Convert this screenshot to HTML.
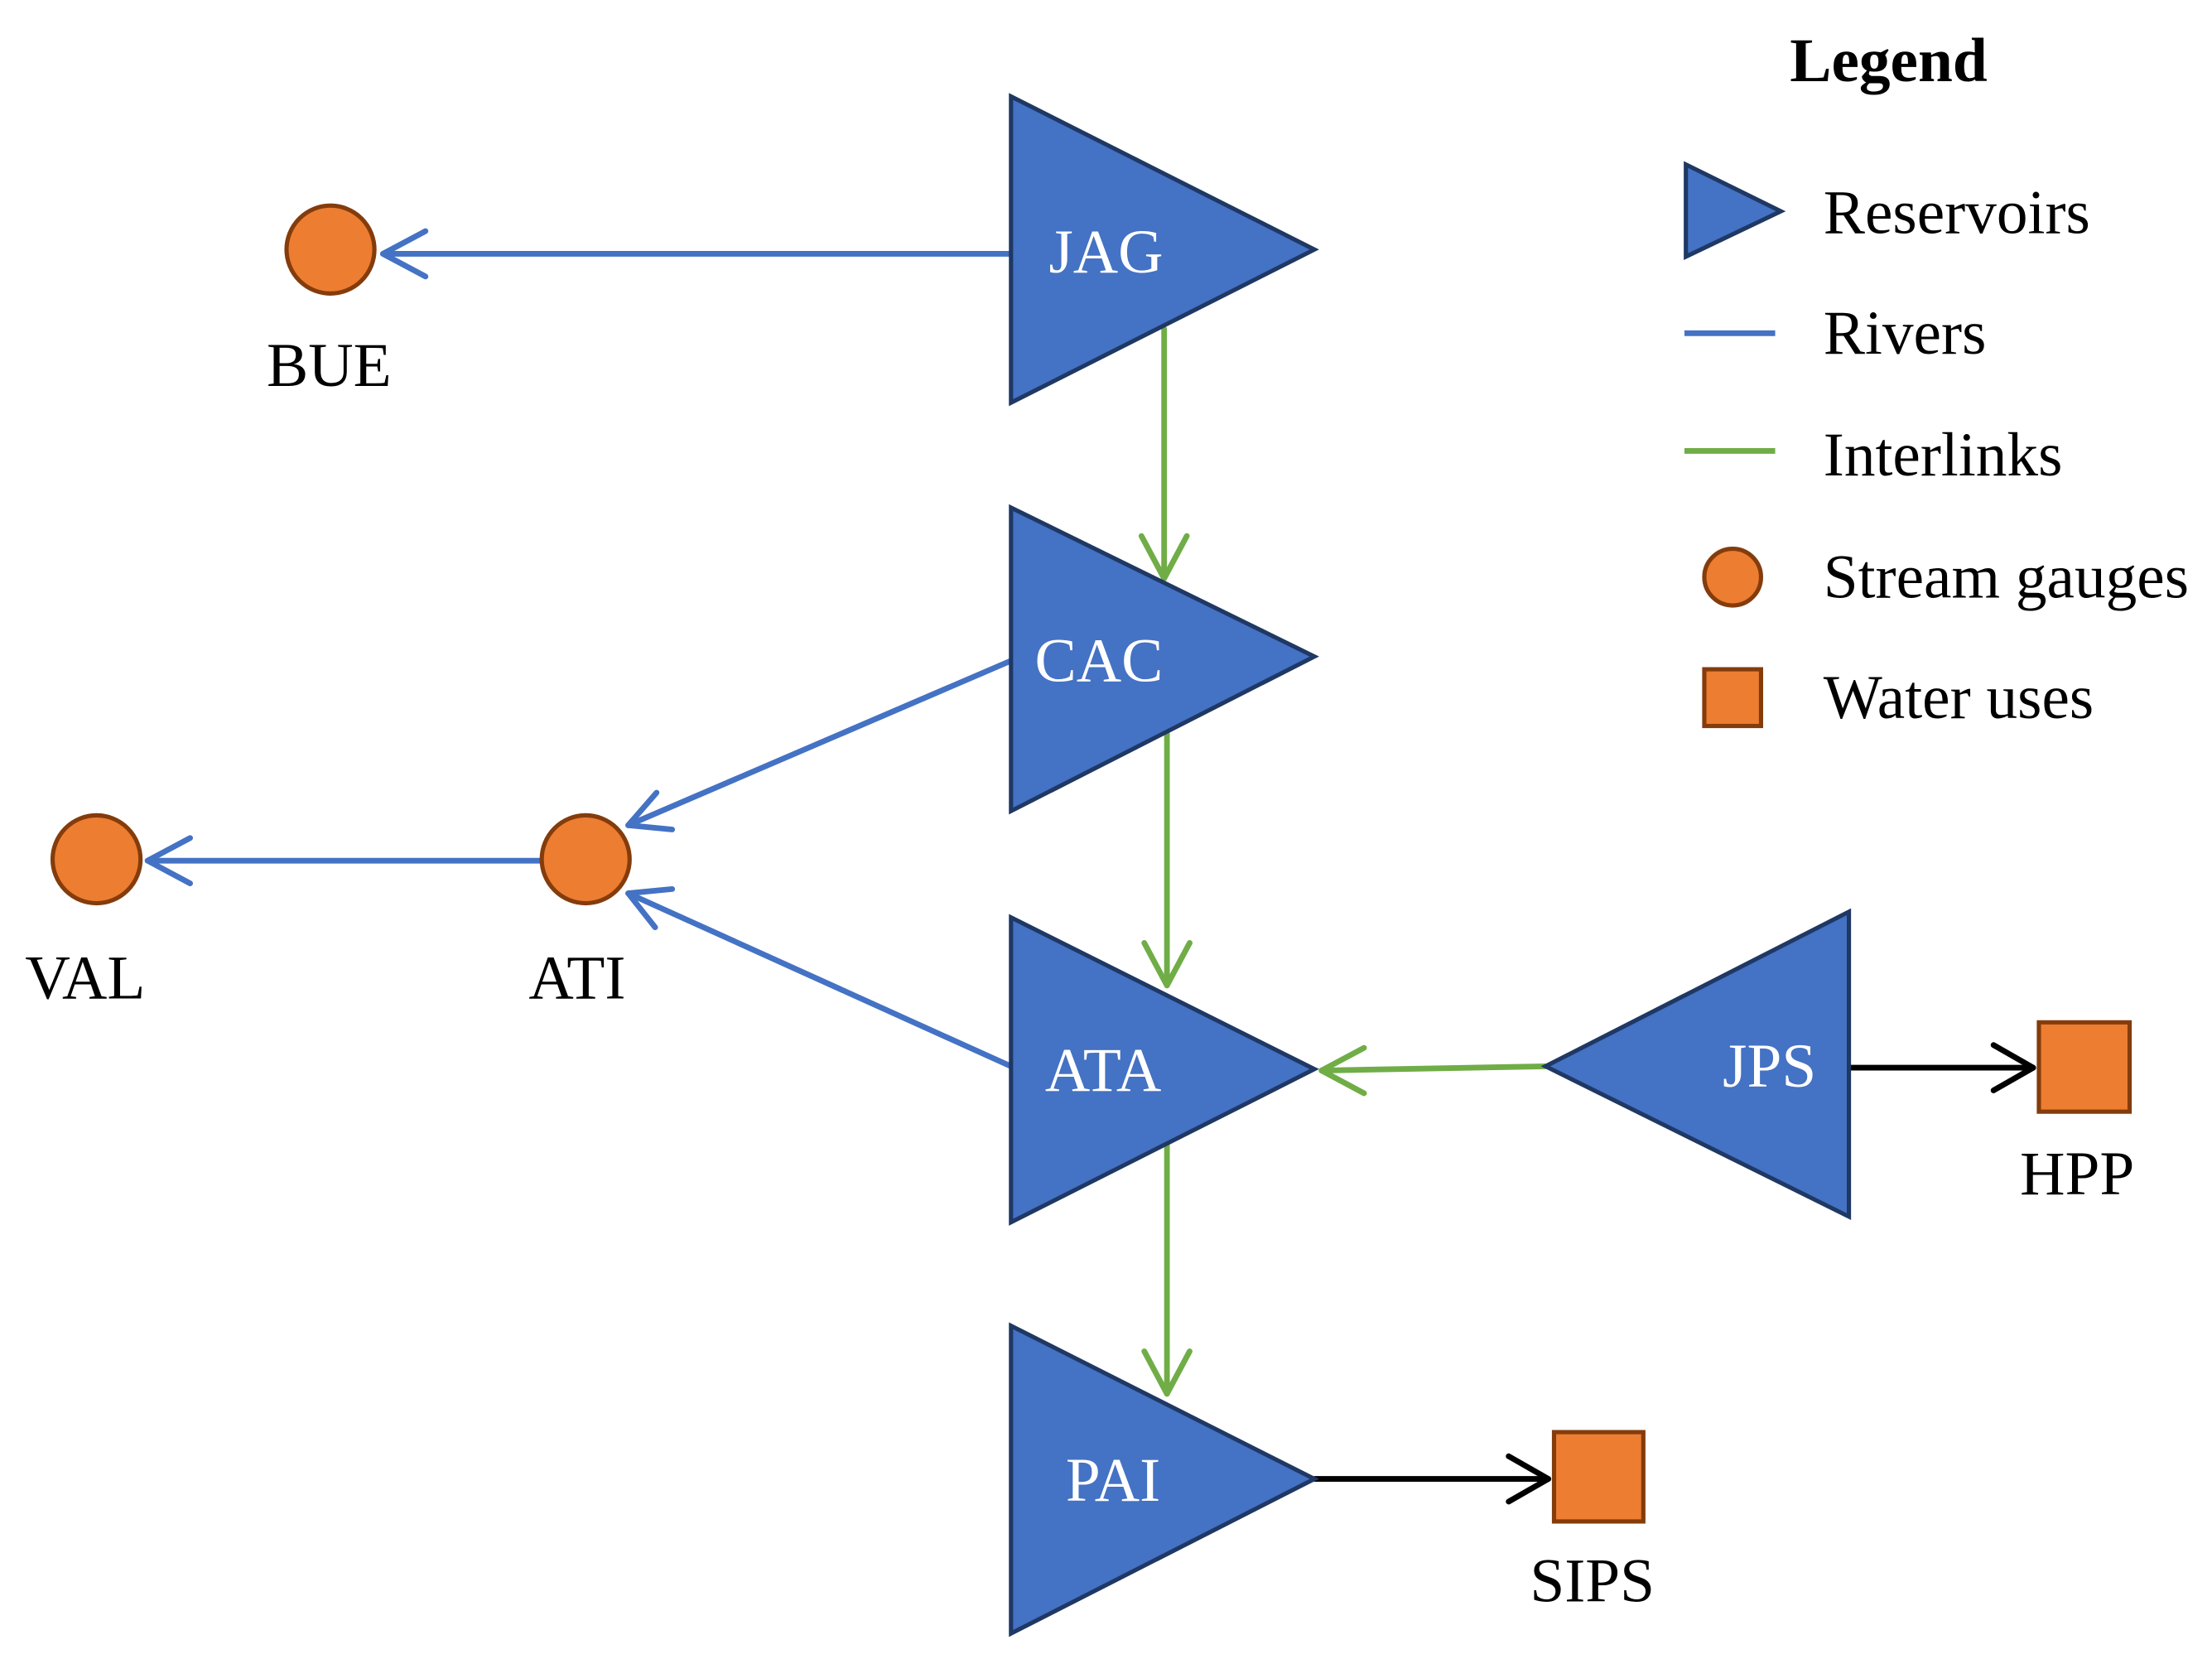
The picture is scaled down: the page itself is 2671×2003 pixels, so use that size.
<!DOCTYPE html>
<html><head><meta charset="utf-8"><style>html,body{margin:0;padding:0;background:#fff}svg{display:block}</style></head>
<body>
<svg width="2671" height="2003" viewBox="0 0 1560 1170" xmlns="http://www.w3.org/2000/svg" font-family="'Liberation Serif', serif">
<rect width="1560" height="1170" fill="#fff"/>
<g stroke-width="4" fill="none" stroke-linecap="round" stroke-linejoin="round">
<g stroke="#4472c4">
<line x1="713" y1="179" x2="270" y2="179"/><polyline points="300,163 270,179 300,195"/>
<line x1="713" y1="466" x2="443" y2="582"/><polyline points="463,559 443,582 474,585"/>
<line x1="381" y1="607" x2="104" y2="607"/><polyline points="134,591 104,607 134,623"/>
<line x1="713" y1="752" x2="443" y2="630"/><polyline points="474,627 443,630 462,654"/>
</g>
<g stroke="#70ad47">
<line x1="821" y1="232" x2="821" y2="408"/><polyline points="805,378 821,408 837,378"/>
<line x1="823" y1="517" x2="823" y2="695"/><polyline points="807,665 823,695 839,665"/>
<line x1="823" y1="806" x2="823" y2="983"/><polyline points="807,953 823,983 839,953"/>
<line x1="1090" y1="752" x2="932" y2="755"/><polyline points="962,739 932,755 962,771"/>
</g>
<g stroke="#000">
<line x1="1304" y1="753" x2="1434" y2="753"/><polyline points="1406,737 1434,753 1406,769"/>
<line x1="927" y1="1043" x2="1092" y2="1043"/><polyline points="1064,1027 1092,1043 1064,1059"/>
</g>
</g>
<g fill="#4472c4" stroke="#1f3864" stroke-width="3">
<polygon points="713,68 713,284 927,176"/>
<polygon points="713,358 713,572 927,463"/>
<polygon points="713,647 713,862 927,754"/>
<polygon points="713,935 713,1152 927,1043"/>
<polygon points="1304,643 1304,858 1090,752"/>
</g>
<g fill="#fff" font-size="44" text-anchor="middle" dominant-baseline="central">
<text x="780" y="178">JAG</text>
<text x="775" y="466">CAC</text>
<text x="778" y="755">ATA</text>
<text x="785" y="1044">PAI</text>
<text x="1248" y="752">JPS</text>
</g>
<g fill="#ed7d31" stroke="#843c0c" stroke-width="3">
<circle cx="233" cy="176" r="31"/>
<circle cx="68" cy="606" r="31"/>
<circle cx="413" cy="606" r="31"/>
<rect x="1438" y="721" width="64" height="63"/>
<rect x="1096" y="1010" width="63" height="63"/>
</g>
<g fill="#000" font-size="44" text-anchor="middle" dominant-baseline="central">
<text x="232" y="258">BUE</text>
<text x="60" y="690">VAL</text>
<text x="407" y="690">ATI</text>
<text x="1465" y="828">HPP</text>
<text x="1123" y="1115">SIPS</text>
</g>
<text x="1332" y="43" font-size="44" font-weight="bold" text-anchor="middle" dominant-baseline="central">Legend</text>
<polygon points="1189,116 1189,181 1256,149" fill="#4472c4" stroke="#1f3864" stroke-width="3"/>
<line x1="1188" y1="235" x2="1252" y2="235" stroke="#4472c4" stroke-width="4"/>
<line x1="1188" y1="318" x2="1252" y2="318" stroke="#70ad47" stroke-width="4"/>
<circle cx="1222" cy="407" r="20" fill="#ed7d31" stroke="#843c0c" stroke-width="3"/>
<rect x="1202" y="472" width="40" height="40" fill="#ed7d31" stroke="#843c0c" stroke-width="3"/>
<g font-size="44" dominant-baseline="central">
<text x="1286" y="150">Reservoirs</text>
<text x="1286" y="235">Rivers</text>
<text x="1286" y="321">Interlinks</text>
<text x="1286" y="407">Stream gauges</text>
<text x="1286" y="492">Water uses</text>
</g>
</svg>
</body></html>
